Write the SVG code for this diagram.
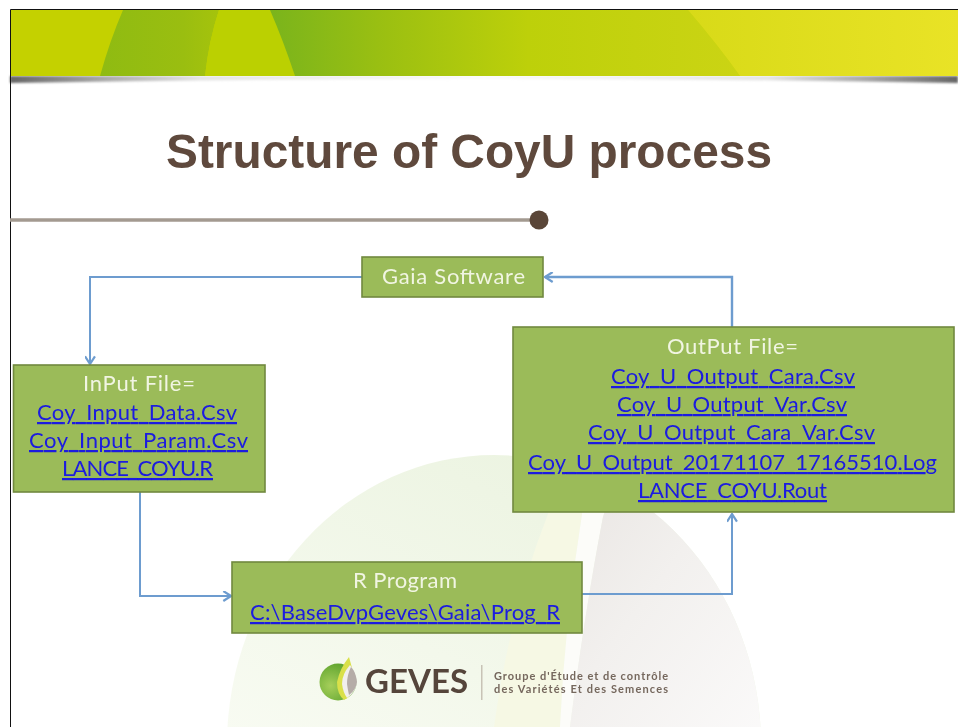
<svg xmlns="http://www.w3.org/2000/svg" width="958" height="727" viewBox="0 0 958 727">
<defs>
<style>
.box{fill:#9bbb59;stroke:#71893f;stroke-width:1.6}
.t{font-family:"Lato","Open Sans",sans-serif;font-size:22px;text-anchor:start}
.w{fill:#f1f5e2}
.l{fill:#1a1ae0;text-decoration:underline}
.c{fill:none;stroke:#6d9ccf;stroke-width:2}
.s{font-family:"Lato","Open Sans",sans-serif;font-size:11px;font-weight:700;fill:#75675d}
</style>
<marker id="a" markerWidth="11" markerHeight="11" refX="9" refY="5" orient="auto" markerUnits="userSpaceOnUse" viewBox="0 0 10 10"><path d="M2 0.5 L9 5 L2 9.500" fill="none" stroke="#6d9ccf" stroke-width="2"/></marker>
<linearGradient id="g1" x1="0" x2="1" y1="0" y2="0"><stop offset="0" stop-color="#7ab41c"/><stop offset=".25" stop-color="#9cc011"/><stop offset=".55" stop-color="#bdd00a"/><stop offset="1" stop-color="#cbd414"/></linearGradient>
<linearGradient id="g2" x1="0" x2="1" y1="0" y2="0"><stop offset="0" stop-color="#d8da18"/><stop offset="1" stop-color="#e9e326"/></linearGradient>
<linearGradient id="g3" x1="0" x2="1" y1="0" y2="0"><stop offset="0" stop-color="#8fbb12"/><stop offset=".7" stop-color="#9abe10"/><stop offset="1" stop-color="#a5c30c"/></linearGradient>
<linearGradient id="sh" x1="0" x2="1" y1="0" y2="0"><stop offset="0" stop-color="#666"/><stop offset=".1" stop-color="#aaa"/><stop offset=".2" stop-color="#e4e4e4"/><stop offset=".5" stop-color="#fafafa"/><stop offset=".8" stop-color="#e4e4e4"/><stop offset=".9" stop-color="#aaa"/><stop offset="1" stop-color="#666"/></linearGradient>
<linearGradient id="bg" x1="0" x2="1" y1="1" y2="0"><stop offset="0" stop-color="#f8fbf2"/><stop offset="1" stop-color="#e9f2dd"/></linearGradient>
<linearGradient id="gr" x1="0" x2="1" y1="0" y2="1"><stop offset="0" stop-color="#e8e4e1"/><stop offset=".45" stop-color="#f2f0ee"/><stop offset="1" stop-color="#fbfafa"/></linearGradient>
<radialGradient id="lg" cx=".3" cy=".6" r=".8"><stop offset="0" stop-color="#a6cf5a"/><stop offset="1" stop-color="#4f9a24"/></radialGradient>
<clipPath id="ell"><ellipse cx="494" cy="745" rx="267" ry="290"/></clipPath>
<filter id="b1" x="-5%" y="-5%" width="110%" height="110%"><feGaussianBlur stdDeviation="0.45"/></filter>
<filter id="b2" x="-5%" y="-100%" width="110%" height="300%"><feGaussianBlur stdDeviation="1.2"/></filter>
</defs>
<rect width="958" height="727" fill="#fff"/>
<g id="background-shape" clip-path="url(#ell)">
<rect x="220" y="450" width="550" height="280" fill="url(#bg)"/>
<path d="M548 450 L582 450 L582 514 Q565 620 560 727 L494 727 Q510 610 548 514Z" fill="#f6f8e4"/>
<path d="M582 450 L625 450 L603 517 Q585 610 570 727 L560 727 Q565 620 582 514Z" fill="#fcfcf9"/>
<path d="M625 450 L780 450 L780 727 L570 727 Q585 610 603 517Z" fill="url(#gr)"/>
</g>
<g id="banner">
<path d="M10 76 L958 76 L958 83 Q480 75 10 83Z" fill="url(#sh)" filter="url(#b2)"/>
<rect x="10" y="10" width="948" height="66" fill="#c4d100"/>
<path d="M123 10 L219 10 Q209 40 205 76 L100 76 Q110 40 123 10Z" fill="url(#g3)"/>
<path d="M219 10 L270 10 Q283 40 295 76 L205 76 Q209 40 219 10Z" fill="#bbd001"/>
<path d="M270 10 L688 10 Q718 45 740 76 L295 76 Q283 40 270 10Z" fill="url(#g1)"/>
<path d="M688 10 L958 10 L958 76 L740 76 Q718 45 688 10Z" fill="url(#g2)"/>
</g>
<g id="frame"><path d="M10.500 727 V9.500 H958" fill="none" stroke="#111" stroke-width="1"/></g>
<g id="title" filter="url(#b1)"><text x="166" y="168" font-family="Liberation Sans, Arial, sans-serif" font-size="48" font-weight="700" fill="#5e4a3c" textLength="606" lengthAdjust="spacingAndGlyphs">Structure of CoyU process</text></g>
<g id="rule"><line x1="10" y1="220" x2="538" y2="220" stroke="#a39a90" stroke-width="3.500"/><circle cx="539" cy="220" r="9.500" fill="#5a4638"/></g>
<g id="connectors">
<path class="c" d="M362 277 H90 V364" marker-end="url(#a)"/>
<path class="c" d="M140 492 V596 H231" marker-end="url(#a)"/>
<path class="c" d="M582 594 H732 V514" marker-end="url(#a)"/>
<path class="c" d="M732 327 V277 H545" marker-end="url(#a)" style="stroke-width:2.400"/>
</g>
<g id="node-gaia"><rect class="box" x="362" y="257" width="181" height="40"/>
<g filter="url(#b1)"><text class="t w" x="382" y="284" textLength="143" lengthAdjust="spacing">Gaia Software</text></g></g>
<g id="node-input"><rect class="box" x="13.500" y="365" width="251.500" height="127"/>
<g filter="url(#b1)">
<text class="t w" x="83" y="391" textLength="112" lengthAdjust="spacing">InPut File=</text>
<text class="t l" x="37" y="420" textLength="200" lengthAdjust="spacing">Coy_Input_Data.Csv</text>
<text class="t l" x="29" y="448" textLength="219" lengthAdjust="spacing">Coy_Input_Param.Csv</text>
<text class="t l" x="62" y="476" textLength="151" lengthAdjust="spacing">LANCE_COYU.R</text>
</g></g>
<g id="node-output"><rect class="box" x="513" y="327" width="441" height="185"/>
<g filter="url(#b1)">
<text class="t w" x="667" y="354" textLength="131" lengthAdjust="spacing">OutPut File=</text>
<text class="t l" x="611" y="384" textLength="244" lengthAdjust="spacing">Coy_U_Output_Cara.Csv</text>
<text class="t l" x="617" y="412" textLength="230" lengthAdjust="spacing">Coy_U_Output_Var.Csv</text>
<text class="t l" x="588" y="440" textLength="287" lengthAdjust="spacing">Coy_U_Output_Cara_Var.Csv</text>
<text class="t l" x="528" y="470" textLength="409" lengthAdjust="spacing">Coy_U_Output_20171107_17165510.Log</text>
<text class="t l" x="638" y="498" textLength="189" lengthAdjust="spacing">LANCE_COYU.Rout</text>
</g></g>
<g id="node-r"><rect class="box" x="232" y="562" width="350" height="71"/>
<g filter="url(#b1)">
<text class="t w" x="353" y="588" textLength="104" lengthAdjust="spacing">R Program</text>
<text class="t l" x="250" y="620" textLength="310" lengthAdjust="spacing">C:\BaseDvpGeves\Gaia\Prog_R</text>
</g></g>
<g id="logo" filter="url(#b1)">
<circle cx="338" cy="682" r="18.500" fill="url(#lg)"/>
<path d="M349 657 Q340 668 337 682 Q337 694 344 700 Q352 697 356 682 Q352 668 349 657Z" fill="#d9e04a"/>
<path d="M350 665 Q342 674 342 684 Q343 692 347 698 Q356 692 357 682 Q356 672 350 665Z" fill="#f1efed"/>
<path d="M351 667 Q347 675 347 684 Q348 691 349 695 Q356 690 357 682 Q356 672 351 667Z" fill="#b5aca7"/>
<text x="365" y="693" font-family="Lato, Open Sans, sans-serif" font-size="32" font-weight="700" fill="#54443b" textLength="103" lengthAdjust="spacingAndGlyphs">GEVES</text>
<rect x="481" y="665" width="1.500" height="35" fill="#c8c3b6"/>
<text class="s" x="494" y="680" textLength="174" lengthAdjust="spacing">Groupe d'Étude et de contrôle</text>
<text class="s" x="494" y="693" textLength="174" lengthAdjust="spacing">des Variétés Et des Semences</text>
</g>
</svg>
